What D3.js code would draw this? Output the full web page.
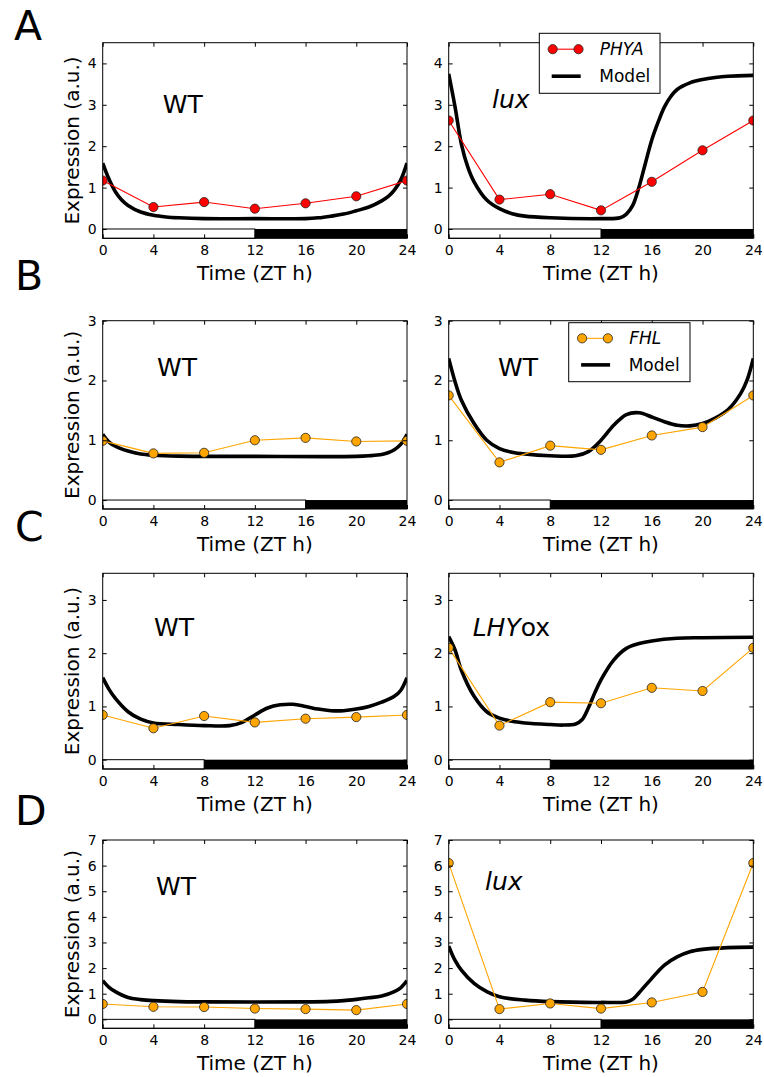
<!DOCTYPE html>
<html>
<head>
<meta charset="utf-8">
<script src="https://cdn.jsdelivr.net/npm/d3@7"></script>
<style>
  body { margin: 0; background: #fff; }
  svg { display: block; }
  text { font-family: "DejaVu Sans", sans-serif; fill: #000; }
</style>
</head>
<body>
<svg id="fig" width="764" height="1077"></svg>
<script>
// Sampling times of the measured expression (ZT hours)
const hours = [0, 4, 8, 12, 16, 20, 24];
const xTicks = [0, 4, 8, 12, 16, 20, 24];

// Measured expression (a.u.)
const phyaWT    = [1.17, 0.53, 0.65, 0.49, 0.62, 0.79, 1.17];
const phyaLux   = [2.62, 0.71, 0.84, 0.45, 1.14, 1.90, 2.62];
const fhlWT16   = [0.99, 0.78, 0.79, 1.00, 1.04, 0.98, 0.99];
const fhlWT8    = [1.75, 0.63, 0.91, 0.84, 1.08, 1.22, 1.75];
const fhlWTsd   = [0.84, 0.59, 0.82, 0.70, 0.77, 0.80, 0.84];
const fhlLHYox  = [2.10, 0.64, 1.08, 1.06, 1.35, 1.29, 2.10];
const fhlWTld   = [0.60, 0.49, 0.48, 0.42, 0.40, 0.36, 0.60];
const fhlLux    = [6.10, 0.40, 0.62, 0.42, 0.66, 1.07, 6.10];

// Model simulations, [ZT h, expression]
const modelPhyaWT = [[0,1.59],[0.5,1.2],[1,0.9],[1.5,0.7],[2,0.57],[3,0.41],[4,0.33],[5,0.29],[6,0.27],[8,0.25],[12,0.25],[16,0.25],[17,0.27],[18,0.31],[19,0.36],[20,0.44],[21,0.53],[22,0.68],[22.5,0.78],[23,0.94],[23.5,1.18],[24,1.59]];
const modelPhyaLux = [[0,3.75],[0.5,2.95],[1,2.05],[1.5,1.5],[2,1.14],[3,0.7],[4,0.49],[5,0.37],[6,0.31],[8,0.27],[12,0.25],[13.5,0.27],[14,0.36],[14.5,0.57],[15,1.02],[15.5,1.59],[16,2.15],[16.5,2.58],[17,2.95],[17.5,3.2],[18,3.37],[19,3.53],[20,3.61],[21,3.66],[22,3.69],[24,3.71]];
const modelFhlWT16 = [[0,1.1],[0.5,0.97],[1,0.9],[2,0.82],[3,0.77],[4,0.75],[6,0.735],[12,0.73],[20,0.73],[21,0.74],[22,0.76],[22.5,0.79],[23,0.84],[23.5,0.93],[24,1.1]];
const modelFhlWT8 = [[0,2.37],[0.5,1.98],[1,1.67],[2,1.28],[3,1.0],[4,0.86],[5,0.8],[6,0.77],[8,0.74],[10,0.74],[11,0.81],[12,1.0],[13,1.25],[14,1.43],[15,1.46],[16,1.39],[17,1.31],[18,1.25],[19,1.24],[20,1.28],[21,1.37],[22,1.51],[23,1.78],[23.5,2.0],[24,2.37]];
const modelFhlWTsd = [[0,1.54],[0.5,1.32],[1,1.15],[2,0.9],[3,0.76],[4,0.69],[6,0.66],[8,0.64],[10,0.64],[11,0.7],[12,0.84],[13,0.97],[14,1.03],[15,1.04],[16,1.0],[17,0.95],[18,0.92],[19,0.92],[20,0.95],[21,1.0],[22,1.08],[23,1.19],[23.5,1.3],[24,1.54]];
const modelFhlLHYox = [[0,2.31],[0.5,2.06],[1,1.68],[2,1.19],[3,0.9],[4,0.78],[5,0.72],[6,0.69],[8,0.66],[9,0.65],[10,0.67],[10.5,0.75],[11,0.97],[11.5,1.25],[12,1.5],[13,1.87],[14,2.09],[15,2.18],[16,2.23],[18,2.28],[20,2.29],[24,2.30]];
const modelFhlWTld = [[0,1.51],[0.5,1.25],[1,1.08],[2,0.85],[3,0.77],[4,0.73],[6,0.69],[8,0.68],[16,0.68],[18,0.7],[19,0.73],[20,0.78],[21,0.84],[22,0.91],[23,1.08],[23.5,1.23],[24,1.51]];
const modelFhlLux = [[0,2.86],[0.5,2.3],[1,1.92],[2,1.4],[3,1.08],[4,0.88],[6,0.75],[8,0.69],[12,0.66],[14,0.68],[14.5,0.78],[15,1.04],[16,1.6],[17,2.12],[18,2.44],[19,2.64],[20,2.73],[22,2.8],[24,2.82]];

// Upper y limit of each row
const rowYMax = [4.5, 3, 3.5, 7];
// Time at which lights go off in each panel
const lightsOff = [[12, 12], [16, 8], [8, 8], [12, 12]];

// Figure layout (pixels)
const colX = [[102.7, 407], [448.7, 753.3]];
const rowY = [[42.7, 238.3], [320.7, 509], [573.3, 769], [840, 1028.3]];

const RED = "#ff0000", ORANGE = "#ffa500";

const panels = [
  {r:0, c:0, obs:phyaWT,  model:modelPhyaWT,  color:RED,    tag:[["WT",false]], tx:162.7, ty:113},
  {r:0, c:1, obs:phyaLux, model:modelPhyaLux, color:RED,    tag:[["lux",true]], tx:492, ty:108,
     legend:{name:"PHYA", x:539.3, y:33.3, w:120.7, h:60}},
  {r:1, c:0, obs:fhlWT16, model:modelFhlWT16, color:ORANGE, tag:[["WT",false]], tx:157, ty:375.7},
  {r:1, c:1, obs:fhlWT8,  model:modelFhlWT8,  color:ORANGE, tag:[["WT",false]], tx:498, ty:376,
     legend:{name:"FHL", x:568.7, y:322.7, w:121.3, h:59}},
  {r:2, c:0, obs:fhlWTsd, model:modelFhlWTsd, color:ORANGE, tag:[["WT",false]], tx:154, ty:636},
  {r:2, c:1, obs:fhlLHYox,model:modelFhlLHYox,color:ORANGE, tag:[["LHY",true],["ox",false]], tx:472.7, ty:636},
  {r:3, c:0, obs:fhlWTld, model:modelFhlWTld, color:ORANGE, tag:[["WT",false]], tx:156, ty:895},
  {r:3, c:1, obs:fhlLux,  model:modelFhlLux,  color:ORANGE, tag:[["lux",true]], tx:485, ty:890}
];

const letters = [["A", 14, 40], ["B", 15, 290], ["C", 15, 541], ["D", 15, 825]];

const svg = d3.select("#fig");
const defs = svg.append("defs");

panels.forEach((p, i) => {
  const [x0, x1] = colX[p.c];
  const [y0, y1] = rowY[p.r];
  const ymax = rowYMax[p.r];
  const ymin = -0.05 * ymax;
  const x = d3.scaleLinear().domain([0, 24]).range([x0, x1]);
  const y = d3.scaleLinear().domain([ymin, ymax]).range([y1, y0]);

  const clipId = "clip" + i;
  defs.append("clipPath").attr("id", clipId)
    .append("rect").attr("x", x0).attr("y", y0).attr("width", x1 - x0).attr("height", y1 - y0);

  const g = svg.append("g");

  // light / dark bar along the bottom
  const off = lightsOff[p.r][p.c];
  g.append("rect")
    .attr("x", x(0)).attr("y", y(0))
    .attr("width", x(off) - x(0)).attr("height", y(ymin) - y(0))
    .attr("fill", "#fff").attr("stroke", "#000").attr("stroke-width", 1);
  g.append("rect")
    .attr("x", x(off)).attr("y", y(0))
    .attr("width", x(24) - x(off)).attr("height", y(ymin) - y(0))
    .attr("fill", "#000");

  const plot = g.append("g").attr("clip-path", `url(#${clipId})`);

  // model curve
  plot.append("path")
    .datum(p.model)
    .attr("d", d3.line().x(d => x(d[0])).y(d => y(d[1])).curve(d3.curveCatmullRom.alpha(0.5)))
    .attr("fill", "none").attr("stroke", "#000").attr("stroke-width", 3.6)
    .attr("stroke-linejoin", "round");

  // measured data
  const pts = hours.map((h, k) => [h, p.obs[k]]);
  plot.append("path")
    .datum(pts)
    .attr("d", d3.line().x(d => x(d[0])).y(d => y(d[1])))
    .attr("fill", "none").attr("stroke", p.color).attr("stroke-width", 1.1);
  plot.selectAll("circle.obs").data(pts).join("circle")
    .attr("class", "obs")
    .attr("cx", d => x(d[0])).attr("cy", d => y(d[1])).attr("r", 4.6)
    .attr("fill", p.color).attr("stroke", "#222").attr("stroke-width", 0.8);

  // axes with inward ticks on all four sides
  const yTicks = d3.range(0, Math.floor(ymax) + 1);
  const fmt = d3.format("d");
  const axB = g.append("g").attr("transform", `translate(0,${y1})`)
    .call(d3.axisBottom(x).tickValues(xTicks).tickFormat(fmt).tickSize(-4).tickSizeOuter(0).tickPadding(7));
  const axT = g.append("g").attr("transform", `translate(0,${y0})`)
    .call(d3.axisTop(x).tickValues(xTicks).tickSize(-4).tickSizeOuter(0).tickFormat(""));
  const axL = g.append("g").attr("transform", `translate(${x0},0)`)
    .call(d3.axisLeft(y).tickValues(yTicks).tickFormat(fmt).tickSize(-4).tickSizeOuter(0).tickPadding(6));
  const axR = g.append("g").attr("transform", `translate(${x1},0)`)
    .call(d3.axisRight(y).tickValues(yTicks).tickSize(-4).tickSizeOuter(0).tickFormat(""));
  [axB, axT, axL, axR].forEach(a => {
    a.select(".domain").remove();
    a.selectAll("line").attr("stroke", "#000").attr("stroke-width", 1);
    a.selectAll("text").attr("font-size", 14).attr("font-family", "DejaVu Sans").attr("fill", "#000");
  });

  // frame
  g.append("rect").attr("x", x0).attr("y", y0).attr("width", x1 - x0).attr("height", y1 - y0)
    .attr("fill", "none").attr("stroke", "#000").attr("stroke-width", 1);

  // axis titles
  g.append("text").attr("x", (x0 + x1) / 2).attr("y", y1 + 42)
    .attr("text-anchor", "middle").attr("font-size", 20).text("Time (ZT h)");
  if (p.c === 0) {
    g.append("text")
      .attr("transform", `translate(79,${(y0 + y1) / 2}) rotate(-90)`)
      .attr("text-anchor", "middle").attr("font-size", 20).text("Expression (a.u.)");
  }

  // genotype tag
  const t = g.append("text").attr("x", p.tx).attr("y", p.ty).attr("font-size", 25);
  p.tag.forEach(([s, it]) => t.append("tspan").attr("font-style", it ? "italic" : "normal").text(s));

  // legend
  if (p.legend) {
    const L = p.legend;
    const lg = svg.append("g");
    lg.append("rect").attr("x", L.x).attr("y", L.y).attr("width", L.w).attr("height", L.h)
      .attr("fill", "#fff").attr("stroke", "#000").attr("stroke-width", 1);
    const r1 = L.y + L.h * 0.265, r2 = L.y + L.h * 0.715;
    const mx0 = L.x + 13.4, mx1 = L.x + 39.2;
    lg.append("line").attr("x1", mx0).attr("x2", mx1).attr("y1", r1).attr("y2", r1)
      .attr("stroke", p.color).attr("stroke-width", 1.1);
    [mx0, mx1].forEach(cx => lg.append("circle").attr("cx", cx).attr("cy", r1).attr("r", 4.6)
      .attr("fill", p.color).attr("stroke", "#222").attr("stroke-width", 0.8));
    lg.append("text").attr("x", L.x + 60.5).attr("y", r1).attr("dy", "0.35em")
      .attr("font-size", 17).attr("font-style", "italic").text(L.name);
    lg.append("line").attr("x1", L.x + 12.4).attr("x2", L.x + 41.4).attr("y1", r2).attr("y2", r2)
      .attr("stroke", "#000").attr("stroke-width", 3.6);
    lg.append("text").attr("x", L.x + 60).attr("y", r2).attr("dy", "0.35em")
      .attr("font-size", 17).text("Model");
  }
});

// panel letters
svg.selectAll("text.letter").data(letters).join("text")
  .attr("class", "letter")
  .attr("x", d => d[1]).attr("y", d => d[2])
  .attr("font-size", 41).text(d => d[0]);
</script>
</body>
</html>
